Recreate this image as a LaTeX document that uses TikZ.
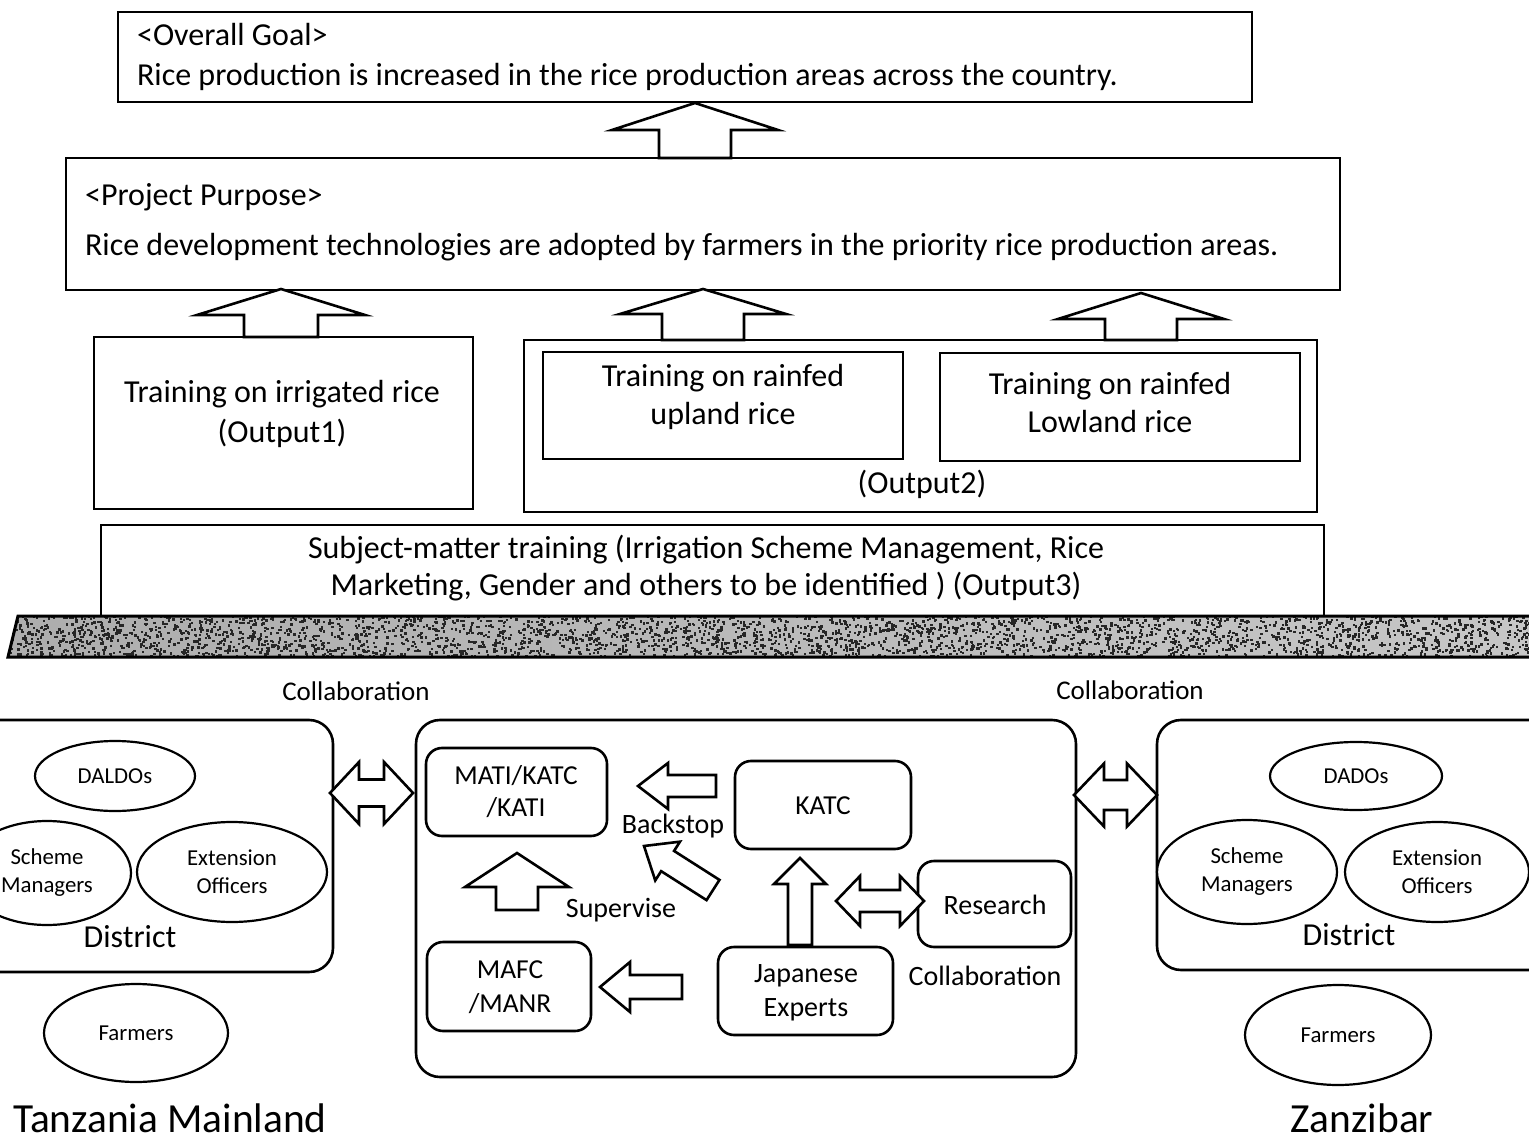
\documentclass[tikz,border=0pt]{standalone}
\usepackage{fontspec}
\setmainfont{Carlito}
\usetikzlibrary{shapes.geometric,calc,fit}

% single block arrow: #1 tail, #2 tip, #3 head length, #4 head half width, #5 shaft half width
\newcommand\blkarrow[5]{%
  \coordinate (hb) at ($(#2)!#3!(#1)$);
  \draw[blk] (#2) -- ($(hb)!#4!90:(#2)$) -- ($(hb)!#5!90:(#2)$) -- ($(#1)!#5!90:(#2)$)
    -- ($(#1)!#5!-90:(#2)$) -- ($(hb)!#5!-90:(#2)$) -- ($(hb)!#4!-90:(#2)$) -- cycle;}
% double block arrow between tips #1 and #2
\newcommand\dblarrow[5]{%
  \coordinate (ca) at ($(#1)!#3!(#2)$);
  \coordinate (cb) at ($(#2)!#3!(#1)$);
  \draw[blk] (#1) -- ($(ca)!#4!90:(#2)$) -- ($(ca)!#5!90:(#2)$) -- ($(cb)!#5!-90:(#1)$)
    -- ($(cb)!#4!-90:(#1)$) -- (#2) -- ($(cb)!#4!90:(#1)$) -- ($(cb)!#5!90:(#1)$)
    -- ($(ca)!#5!-90:(#2)$) -- ($(ca)!#4!-90:(#2)$) -- cycle;}

\begin{document}
\begin{tikzpicture}[x=0.5pt,y=-0.5pt,
  box/.style={draw, line width=1.3pt, inner sep=0pt, align=center},
  rbox/.style={box, rounded corners=8pt},
  ell/.style={draw, ellipse, line width=1.1pt, fill=white, inner sep=0pt, align=center,
    font=\fontsize{11.4}{14}\selectfont},
  blk/.style={draw, line width=1.3pt, fill=white, line join=miter},
  big/.style={font=\fontsize{16}{20}\selectfont, align=center},
  mid/.style={font=\fontsize{13.7}{16}\selectfont, align=center},
  lab/.style={font=\fontsize{14}{16}\selectfont, align=center}]
\useasboundingbox (0,0) rectangle (1529,1143);
\clip (0,0) rectangle (1529,1143);

% ---------- upper part ----------
\node[box, line width=1.4pt, fit={(118,12)(1252,102)}] (goal) {};
\node[big, anchor=west] (goalt) at (130,35) {\textless Overall Goal\textgreater};
\node[big, anchor=west] (goalx) at (130,77) {Rice production is increased in the rice production areas across the country.};

\node[box, line width=1.4pt, fit={(66,158)(1340,290)}] (purp) {};
\node[big, anchor=west] (purpt) at (78,197) {\textless Project Purpose\textgreater};
\node[big, anchor=west] (purpx) at (78,247) {Rice development technologies are adopted by farmers in the priority rice production areas.};

\node[box, fit={(94,337)(473,509)}] (out1) {};
\node[big] (out1t) at (282,414) {Training on irrigated rice\\(Output1)};

\node[box, fit={(524,340)(1317,512)}] (out2) {};
\node[box, fit={(543,352)(903,459)}] (upl) {};
\node[big, font=\fontsize{16}{19}\selectfont] (uplt) at (723,397) {Training on rainfed\\upland rice};
\node[box, fit={(940,353)(1300,461)}] (low) {};
\node[big, font=\fontsize{16}{19}\selectfont] (lowt) at (1110,403) {Training on rainfed\\Lowland rice};
\node[big] (out2t) at (922,484) {(Output2)};

\node[box, fit={(101,525)(1324,616)}] (out3) {};
\node[big, font=\fontsize{16}{18.5}\selectfont] (out3t) at (706,568) {Subject-matter training (Irrigation Scheme Management, Rice\\Marketing, Gender and others to be identified ) (Output3)};

% block arrows upward
\coordinate (a1s) at (695,158); \coordinate (a1e) at (695,103);
\blkarrow{a1s}{a1e}{13.5pt}{41.5pt}{18pt}
\coordinate (a2s) at (281,337); \coordinate (a2e) at (281,289);
\blkarrow{a2s}{a2e}{13pt}{42pt}{18.5pt}
\coordinate (a3s) at (703,340); \coordinate (a3e) at (703,289);
\blkarrow{a3s}{a3e}{12.5pt}{41.5pt}{20.5pt}
\coordinate (a4s) at (1141,340); \coordinate (a4e) at (1141,293);
\blkarrow{a4s}{a4e}{13pt}{41.5pt}{18pt}

% textured band
\begin{scope}
  \clip (18,616) -- (1545,616) -- (1545,657) -- (8,657) -- cycle;
  \fill[left color=black!32, right color=black!22] (0,610) rectangle (1545,660);
  \pgfmathsetseed{4242}
  \foreach \i in {1,...,3600} {
    \pgfmathsetmacro{\px}{rnd*1540}
    \pgfmathsetmacro{\py}{614+rnd*46}
    \fill[black!85] (\px,\py) rectangle ++(2.4,2.4);
  }
\end{scope}
\draw[line width=1.5pt]
  (18,616) -- (1545,616) -- (1545,657) -- (8,657) -- cycle;

% ---------- lower part ----------
\node[font=\fontsize{13.5}{16}\selectfont] (col1) at (356,691) {Collaboration};
\node[font=\fontsize{13.5}{16}\selectfont] (col2) at (1130,690) {Collaboration};

% Tanzania mainland
\node[rbox, rounded corners=12pt, fit={(-40,720)(333,972)}] (distL) {};
\node[ell, minimum width=80pt, minimum height=35pt] (daldo) at (115,776) {DALDOs};
\node[ell, minimum width=84pt, minimum height=52pt] (schL) at (47,873) {Scheme\\Managers};
\node[ell, minimum width=95pt, minimum height=50pt] (extL) at (232,872) {Extension\\Officers};
\node[font=\fontsize{16}{18}\selectfont] (distLt) at (130,937) {District};
\node[ell, minimum width=92pt, minimum height=49pt] (farL) at (136,1033) {Farmers};
\node[font=\fontsize{20.7}{24}\selectfont] (tzm) at (170,1118) {Tanzania Mainland};

% centre
\node[rbox, rounded corners=12pt, fit={(416,720)(1076,1077)}] (cen) {};
\node[rbox, fit={(426,748)(607,836)}] (mati) {};
\node[mid] (matit) at (516,792) {MATI/KATC\\/KATI};
\node[rbox, fit={(735,761)(911,849)}] (katc) {};
\node[mid] (katct) at (823,806) {KATC};
\node[rbox, fit={(918,861)(1071,947)}] (res) {};
\node[lab] (rest) at (995,905) {Research};
\node[rbox, fit={(427,942)(591,1031)}] (mafc) {};
\node[mid, font=\fontsize{13.7}{17}\selectfont] (mafct) at (510,987) {MAFC\\/MANR};
\node[rbox, fit={(718,947)(893,1035)}] (jap) {};
\node[lab, font=\fontsize{14}{17}\selectfont] (japt) at (806,993) {Japanese\\Experts};
\node[lab] (bst) at (673,826) {Backstop};
\node[lab] (sup) at (621,910) {Supervise};
\node[lab] (col3) at (985,976) {Collaboration};

\coordinate (b1s) at (716,786); \coordinate (b1e) at (638,786);
\blkarrow{b1s}{b1e}{15pt}{11.5pt}{5.5pt}
\coordinate (b2s) at (713,890); \coordinate (b2e) at (644,846);
\blkarrow{b2s}{b2e}{14pt}{11.5pt}{6pt}
\coordinate (b3s) at (517,910); \coordinate (b3e) at (517,853);
\blkarrow{b3s}{b3e}{17pt}{26pt}{10.5pt}
\coordinate (b4s) at (682,987); \coordinate (b4e) at (600,987);
\blkarrow{b4s}{b4e}{15pt}{12.5pt}{6pt}
\coordinate (b5s) at (800,945); \coordinate (b5e) at (800,858);
\blkarrow{b5s}{b5e}{13pt}{13pt}{6pt}
\coordinate (d1a) at (836,901); \coordinate (d1b) at (924,901);
\dblarrow{d1a}{d1b}{12pt}{12.5pt}{5.5pt}

% connections between regions
\coordinate (d2a) at (330,793); \coordinate (d2b) at (413,793);
\dblarrow{d2a}{d2b}{14.5pt}{15.5pt}{6.75pt}
\coordinate (d3a) at (1074,795); \coordinate (d3b) at (1157,795);
\dblarrow{d3a}{d3b}{15pt}{15.75pt}{7.5pt}

% Zanzibar
\node[rbox, rounded corners=12pt, fit={(1157,720)(1560,970)}] (distR) {};
\node[ell, minimum width=86pt, minimum height=34pt] (dado) at (1356,776) {DADOs};
\node[ell, minimum width=90pt, minimum height=52pt] (schR) at (1247,872) {Scheme\\Managers};
\node[ell, minimum width=92pt, minimum height=50pt] (extR) at (1437,872) {Extension\\Officers};
\node[font=\fontsize{16}{18}\selectfont] (distRt) at (1349,935) {District};
\node[ell, minimum width=93pt, minimum height=50pt] (farR) at (1338,1035) {Farmers};
\node[font=\fontsize{20.7}{24}\selectfont] (zan) at (1362,1118) {Zanzibar};
\end{tikzpicture}
\end{document}
